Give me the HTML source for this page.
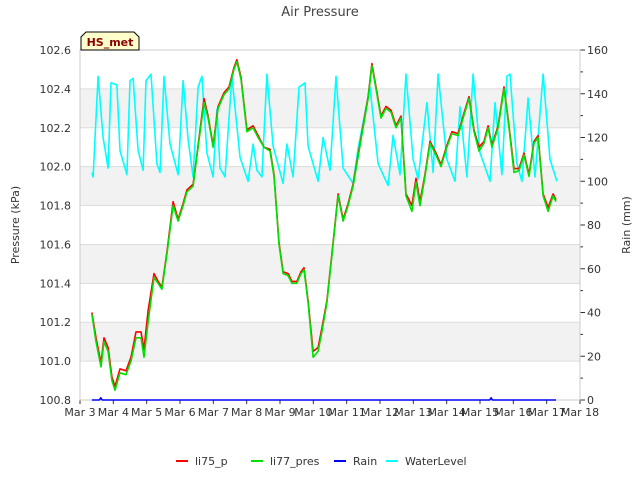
<!DOCTYPE html>
<html><head><meta charset="utf-8"><style>
body{margin:0;background:#fff;font-family:"Liberation Sans","DejaVu Sans",sans-serif}
svg text{font-family:"DejaVu Sans","Liberation Sans",sans-serif}
</style></head><body>
<svg id="chart" width="640" height="480" xmlns="http://www.w3.org/2000/svg">
<g id="bands"></g><g id="grid"></g><g id="axes"></g><g id="series"></g>
<text x="320" y="16" text-anchor="middle" font-size="13" fill="#444">Air Pressure</text>
<text transform="translate(19,225) rotate(-90)" text-anchor="middle" font-size="11" fill="#333">Pressure (kPa)</text>
<text transform="translate(630,225) rotate(-90)" text-anchor="middle" font-size="11" fill="#333">Rain (mm)</text>
<g>
<path d="M81,50 L81,37 L86,32 L134,32 L139,37 L139,50 Z" fill="#ffffcc" stroke="#000" stroke-width="1"/>
<text x="110" y="46" text-anchor="middle" font-size="11" font-weight="bold" fill="#8b0000">HS_met</text>
</g>
<g id="legend"></g>
</svg>
<script>
const pTimes=[8.6,11.5,15.1,17.3,20.2,23,25.2,28.8,33.1,36.7,40.3,43.9,46.1,49,53.3,56.2,59,62.6,67,70.6,74.2,77,81.4,85,89.3,92.2,95.8,99.4,103.7,107.3,110.9,113,115.9,120.2,124.6,128.2,132.5,136.8,139.7,143.3,146.2,149.8,152.6,156.2,159.1,161.3,164.2,167.8,171.4,174.2,177.8,182.2,185.8,189.4,193,196.6,200.2,203.8,207.4,210.2,213.1,216.7,220.3,223.9,227.5,231.1,234.7,239,241.9,244.8,248.4,252,256.3,259.9,264.2,267.8,272.2,275.8,280.1,283.7,287.3,290.9,293.8,296.6,301,305.3,308.9,312.5,316.1,319.7,323.3,326.9,329.8,333.4,337,340.6,342.7];
const li77=[101.24,101.1,100.97,101.1,101.05,100.9,100.85,100.94,100.93,101.0,101.12,101.12,101.02,101.2,101.43,101.4,101.37,101.55,101.8,101.72,101.8,101.87,101.9,102.1,102.33,102.25,102.1,102.3,102.37,102.4,102.5,102.54,102.45,102.18,102.2,102.15,102.1,102.08,101.95,101.6,101.45,101.44,101.4,101.4,101.45,101.47,101.3,101.02,101.05,101.15,101.3,101.6,101.85,101.72,101.8,101.9,102.05,102.2,102.35,102.52,102.4,102.25,102.3,102.28,102.2,102.25,101.85,101.77,101.92,101.8,101.95,102.12,102.06,102.0,102.1,102.17,102.16,102.25,102.35,102.18,102.08,102.12,102.2,102.1,102.2,102.4,102.2,101.97,101.98,102.06,101.95,102.12,102.15,101.85,101.77,101.85,101.82];
const li75=[101.25,101.12,100.99,101.12,101.07,100.92,100.87,100.96,100.95,101.02,101.15,101.15,101.06,101.26,101.45,101.41,101.38,101.56,101.82,101.73,101.81,101.88,101.91,102.11,102.35,102.26,102.11,102.31,102.38,102.41,102.51,102.55,102.46,102.19,102.21,102.16,102.1,102.09,101.96,101.61,101.46,101.45,101.41,101.41,101.46,101.48,101.31,101.05,101.07,101.17,101.31,101.61,101.86,101.73,101.81,101.91,102.06,102.21,102.36,102.53,102.41,102.26,102.31,102.29,102.21,102.26,101.86,101.8,101.94,101.82,101.96,102.13,102.07,102.01,102.11,102.18,102.17,102.26,102.36,102.19,102.1,102.13,102.21,102.11,102.21,102.41,102.21,101.99,101.99,102.07,101.96,102.13,102.16,101.86,101.79,101.86,101.83];
const wTimes=[8.6,9.4,13,16.6,20.2,22.3,26.6,28.8,33.8,36,38.2,41.8,45.4,47.5,51.1,55.4,57.6,60.5,64.8,70.6,74.2,77.8,81.4,85,87.8,91.4,95.8,98.6,100.8,104.4,109.4,115.2,121,124.6,127.4,131,134.6,139,146.2,149,153.4,157.7,162,164.2,171.4,175,180,184.3,189.4,196.6,200.2,208.8,214.6,221.8,225.4,230.4,234.7,239.8,243.4,249.8,254.2,257.8,264.2,270,273.6,278.6,283,288,295.2,298.8,303.8,307.4,309.6,314.6,318.2,322.6,327.6,333.4,338.4,343.4];
const water=[104,102,148,120,106,145,144,114,103,146,147,114,105,146,149,108,104,148,117,103,146,119,102,143,148,113,102,133,106,102,148,111,100,117,105,102,149,116,99,117,102,143,145,116,100,120,105,148,106,99,115,143,108,98,121,103,149,110,101,136,104,149,110,100,134,102,149,113,100,136,103,148,149,108,100,138,102,149,110,100];
const rTimes=[8.6,14,15,16,100,200,295,296,297,342.7];
const rain=[0,0,1,0,0,0,0,1,0,0];
const yTicks=[100.8,101.0,101.2,101.4,101.6,101.8,102.0,102.2,102.4,102.6];
const y2Ticks=[0,20,40,60,80,100,120,140,160];
const xTickLabels=["Mar 3","Mar 4","Mar 5","Mar 6","Mar 7","Mar 8","Mar 9","Mar 10","Mar 11","Mar 12","Mar 13","Mar 14","Mar 15","Mar 16","Mar 17","Mar 18"];

const L=80,R=580,T=50,B=400,NS="http://www.w3.org/2000/svg";
const xs=h=>L+(h/24)*(R-L)/15;
const ys=v=>B-(v-100.8)/(1.8)*(B-T);
const y2=v=>B-v/160*(B-T);
function mk(tag,attrs,parent){const e=document.createElementNS(NS,tag);for(const k in attrs)e.setAttribute(k,attrs[k]);parent.appendChild(e);return e;}
const bands=document.getElementById('bands'),grid=document.getElementById('grid'),axes=document.getElementById('axes'),series=document.getElementById('series');
for(let i=0;i<yTicks.length-1;i++){if(i%2===1){const r=mk('rect',{x:L,y:ys(yTicks[i+1]),width:R-L,height:ys(yTicks[i])-ys(yTicks[i+1]),fill:'#f2f2f2'},bands);

}}
yTicks.forEach(v=>{const l=mk('line',{x1:L,x2:R,y1:ys(v),y2:ys(v),stroke:'#dcdcdc','stroke-width':1},grid);


const t=mk('text',{x:L-9,y:ys(v)+4,'text-anchor':'end','font-size':11,fill:'#333'},axes);t.textContent=v.toFixed(1);

});
y2Ticks.forEach(v=>{mk('line',{x1:R,x2:R+5,y1:y2(v),y2:y2(v),stroke:'#333'},axes);
if(v<160)mk('line',{x1:R,x2:R+3,y1:y2(v+10),y2:y2(v+10),stroke:'#333'},axes);
const t=mk('text',{x:R+7,y:y2(v)+4,'font-size':11,fill:'#333'},axes);t.textContent=v;

});
xTickLabels.forEach((s,i)=>{mk('line',{x1:xs(i*24),x2:xs(i*24),y1:B,y2:B+4,stroke:'#333'},axes);
const t=mk('text',{x:xs(i*24),y:B+16,'text-anchor':'middle','font-size':11,fill:'#333'},axes);t.textContent=s;

});
mk('rect',{x:L,y:T,width:R-L,height:B-T,fill:'none',stroke:'#ccc'},axes);
function line(times,vals,sc,color,name){const d=times.map((t,i)=>(i?'L':'M')+xs(t).toFixed(1)+','+sc(vals[i]).toFixed(1)).join('');
const p=mk('path',{d:d,fill:'none',stroke:color,'stroke-width':1.6,'stroke-linejoin':'round'},series);

}
line(wTimes,water,y2,'#00ffff','waterlevel-line');
line(pTimes,li75,ys,'#ff0000','li75-p-line');
line(pTimes,li77,ys,'#00e000','li77-pres-line');
line(rTimes,rain,y2,'#0000ff','rain-line');
const lg=document.getElementById('legend');
[["li75_p","#ff0000",176],["li77_pres","#00e000",251],["Rain","#0000ff",334],["WaterLevel","#00ffff",386]].forEach(([n,c,x])=>{
const g=mk('g',{},lg);


mk('line',{x1:x,x2:x+12,y1:461,y2:461,stroke:c,'stroke-width':2},g);
const t=mk('text',{x:x+19,y:465,'font-size':11,fill:'#333'},g);t.textContent=n;});
</script>
</body></html>
